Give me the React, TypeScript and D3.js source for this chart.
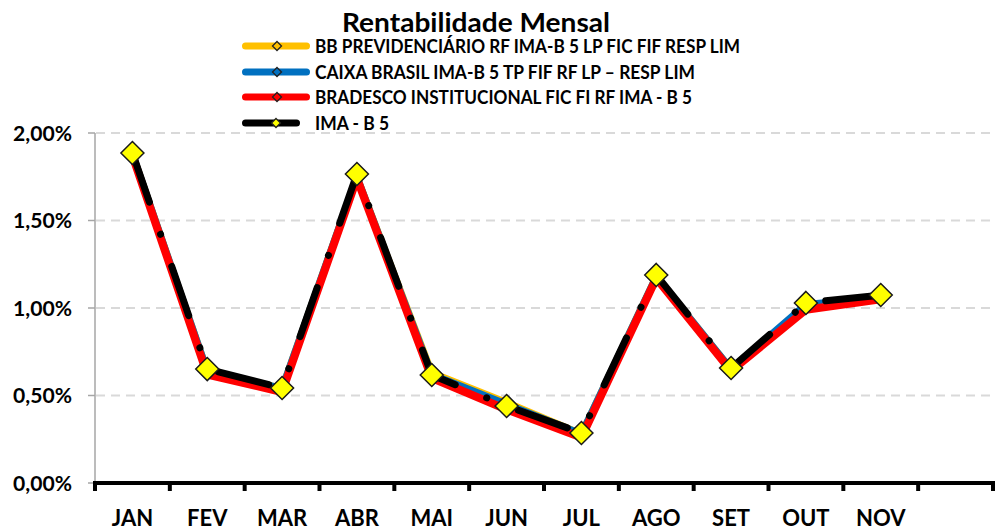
import * as d3 from "d3";

const months = ["JAN", "FEV", "MAR", "ABR", "MAI", "JUN", "JUL", "AGO", "SET", "OUT", "NOV"];
const slotCount = 12; // axis keeps an empty slot for DEZ

const bbValues = [1.88, 0.64, 0.54, 1.75, 0.63, 0.46, 0.28, 1.18, 0.65, 1.01, 1.06];
const caixaValues = [1.88, 0.64, 0.54, 1.75, 0.62, 0.45, 0.28, 1.18, 0.65, 1.02, 1.06];
const bradescoValues = [1.87, 0.62, 0.52, 1.74, 0.6, 0.42, 0.26, 1.17, 0.64, 0.99, 1.05];
const imaValues = [1.886, 0.651, 0.543, 1.766, 0.617, 0.44, 0.286, 1.189, 0.657, 1.029, 1.074];

const yTicks = [0, 0.5, 1, 1.5, 2];

const series = [
  { name: "BB PREVIDENCIÁRIO RF IMA-B 5 LP FIC FIF RESP LIM", values: bbValues, color: "#FFC000", width: 7, textW: 425 },
  { name: "CAIXA BRASIL IMA-B 5 TP FIF RF LP – RESP LIM", values: caixaValues, color: "#0070C0", width: 7, textW: 380 },
  { name: "BRADESCO INSTITUCIONAL FIC FI RF IMA - B 5", values: bradescoValues, color: "#FF0000", width: 8, textW: 377 },
  { name: "IMA - B 5", values: imaValues, color: "#000000", width: 7, textW: 74 },
];

const W = 995;
const H = 528;
const font = "Lato, 'Open Sans', sans-serif";

export default function App() {
  const x = d3.scaleBand<number>().domain(d3.range(slotCount)).range([95, 993]);
  const y = d3.scaleLinear().domain([0, 2]).range([483, 133]);
  const cx = (i: number) => (x(i) as number) + x.bandwidth() / 2;

  const line = d3
    .line<number>()
    .x((_, i) => cx(i))
    .y((d) => y(d));

  const diamond = (px: number, py: number, r: number) =>
    `M${px},${py - r}L${px + r},${py}L${px},${py + r}L${px - r},${py}Z`;

  const legendY = [46, 72, 97, 123];

  return (
    <svg width={W} height={H} style={{ position: "absolute", left: 0, top: 0, background: "#fff" }}>
      <text x={476} y={32} textAnchor="middle" fontFamily={font} fontWeight="bold" fontSize={27}
        textLength={268} lengthAdjust="spacingAndGlyphs">
        Rentabilidade Mensal
      </text>

      {/* gridlines */}
      {yTicks.slice(1).map((t) => (
        <line key={t} x1={96} x2={993} y1={y(t)} y2={y(t)} stroke="#D9D9D9" strokeWidth={2} strokeDasharray="9 6" />
      ))}

      {/* y axis */}
      <line x1={95} x2={95} y1={133} y2={483} stroke="#A6A6A6" strokeWidth={1.5} />
      {yTicks.map((t) => (
        <g key={t}>
          <line x1={88} x2={95} y1={y(t)} y2={y(t)} stroke="#A6A6A6" strokeWidth={1.5} />
          <text x={72} y={y(t) + 7.5} textAnchor="end" fontFamily={font} fontWeight="bold" fontSize={21}
            textLength={59} lengthAdjust="spacingAndGlyphs">
            {d3.format(".2f")(t).replace(".", ",")}%
          </text>
        </g>
      ))}

      {/* x axis */}
      <line x1={93} x2={995} y1={483} y2={483} stroke="#000" strokeWidth={4} />
      {d3.range(slotCount + 1).map((i) => {
        const tx = i < slotCount ? (x(i) as number) : 993;
        return <line key={i} x1={tx} x2={tx} y1={483} y2={491} stroke="#000" strokeWidth={4} />;
      })}
      {months.map((m, i) => (
        <text key={m} x={cx(i)} y={526} textAnchor="middle" fontFamily={font} fontWeight="bold" fontSize={22}>
          {m}
        </text>
      ))}

      {/* series lines */}
      {series.map((s, k) => (
        <path
          key={s.name}
          d={line(s.values) || ""}
          fill="none"
          stroke={s.color}
          strokeWidth={s.width}
          strokeLinejoin="round"
          strokeLinecap="round"
          strokeDasharray={k === 3 ? "52 34 0.1 34" : undefined}
        />
      ))}

      {/* markers on IMA - B 5 */}
      {imaValues.map((v, i) => (
        <path key={i} d={diamond(cx(i), y(v), 11.5)} fill="#FFFF00" stroke="#1a1a1a" strokeWidth={1.5} />
      ))}

      {/* legend */}
      {series.map((s, k) => {
        const ly = legendY[k];
        const x2 = k === 3 ? 296.5 : 306.5;
        return (
          <g key={s.name}>
            <line x1={245.5} x2={x2} y1={ly} y2={ly} stroke={s.color} strokeWidth={7} strokeLinecap="round" />
            <path d={diamond(k === 3 ? 276 : 277, ly, 4.5)} fill={k === 3 ? "#FFFF00" : s.color}
              stroke="#222" strokeWidth={1.3} />
            <text x={315} y={ly + 7} fontFamily={font} fontWeight="bold" fontSize={19}
              textLength={s.textW} lengthAdjust="spacingAndGlyphs">
              {s.name}
            </text>
          </g>
        );
      })}
    </svg>
  );
}
